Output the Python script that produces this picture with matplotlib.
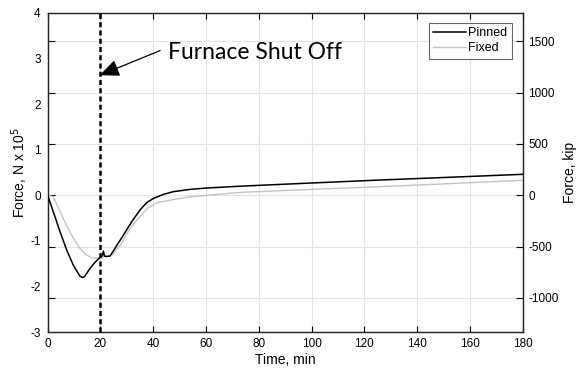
import matplotlib
matplotlib.use("Agg")
import matplotlib.pyplot as plt
import numpy as np

# Data (time in min, force in N x 10^5)
t_pinned = [0, 2.1, 4.7, 7.2, 9.7, 12.2, 13.3, 14.1, 16.0, 17.9, 19.8, 20.6, 21.1, 21.5, 22.4, 23.6,
            25.5, 28.7, 31.8, 35.0, 37.5, 40.0, 43.8, 47.6, 53.9, 60.2, 73.0, 100, 126, 150, 180]
f_pinned = [0, -0.36, -0.80, -1.20, -1.53, -1.77, -1.80, -1.77, -1.60, -1.47, -1.36, -1.33, -1.22, -1.33, -1.34, -1.33,
            -1.16, -0.87, -0.58, -0.32, -0.16, -0.07, 0.02, 0.08, 0.13, 0.16, 0.20, 0.27, 0.335, 0.39, 0.46]

t_fixed = [0, 2.1, 4.7, 7.2, 9.7, 12.2, 14.7, 17.2, 19.8, 22.4, 24.3, 27.5, 31.3, 33.8, 37.7,
           41.5, 47.8, 54.1, 60.4, 73.0, 100, 126, 150, 180]
f_fixed = [0, -0.03, -0.36, -0.67, -0.94, -1.16, -1.31, -1.38, -1.36, -1.33, -1.31, -1.09, -0.72, -0.54, -0.29,
           -0.16, -0.09, -0.03, 0.0, 0.065, 0.13, 0.19, 0.25, 0.33]

series_labels = ["Pinned", "Fixed"]
x_ticks = list(range(0, 181, 20))
left_ticks = list(range(-3, 5))
right_ticks = [-1000, -500, 0, 500, 1000, 1500]
shutoff_time = 20
kip_per_unit = 444.8

plt.rcParams['font.family'] = ['Liberation Sans', 'DejaVu Sans']
plt.rcParams['font.size'] = 8
plt.rcParams['axes.unicode_minus'] = False

fig = plt.figure(figsize=(5.82, 3.72), dpi=100)
ax = fig.add_axes([0.082, 0.1067, 0.816, 0.8592])
ax2 = ax.twinx()

ax.set_zorder(2)
ax2.set_zorder(1)
ax.patch.set_visible(False)
ax2.patch.set_visible(True)
ax2.patch.set_facecolor('white')

gridc = '#e3e3e3'
ax.plot(t_pinned, f_pinned, color='black', lw=1.1, label=series_labels[0], zorder=3)
ax.plot(t_fixed, f_fixed, color='#c4c4c4', lw=1.0, label=series_labels[1], zorder=2)
ax.axvline(shutoff_time, color='black', lw=1.8, linestyle=(0, (2.0, 1.3)), zorder=4)

ax.set_xlim(0, 180)
ax.set_ylim(-3, 4)
ax2.set_ylim(-3 * kip_per_unit, 4 * kip_per_unit)

ax.set_xticks(x_ticks)
ax.set_yticks(left_ticks)
ax2.set_yticks(right_ticks)

ax.xaxis.grid(True, color=gridc, lw=0.8)
ax2.yaxis.grid(True, color=gridc, lw=0.8)
ax.set_axisbelow(True)
ax2.set_axisbelow(True)

ax.tick_params(axis='x', direction='in', top=True, bottom=True, length=4, width=0.8, pad=4, labelsize=8.5)
ax.tick_params(axis='y', length=0, pad=5, labelsize=8.5)
ax2.tick_params(axis='y', direction='in', left=True, right=True, labelleft=False, labelright=True,
                length=5, width=0.8, pad=4, labelsize=8.5)

for a in (ax, ax2):
    for s in a.spines.values():
        s.set_linewidth(0.9)
        s.set_color('#262626')

ax.set_xlabel("Time, min", fontsize=10, labelpad=2)
ax.set_ylabel("Force, N x 10$^5$", fontsize=10, labelpad=0)
ax2.set_ylabel("Force, kip", fontsize=10, labelpad=3)

leg = ax.legend(loc='upper right', bbox_to_anchor=(1 - 11 / 475, 1 - 10 / 319.6), borderaxespad=0,
                fancybox=False, edgecolor='#666666', framealpha=1, fontsize=9, handlelength=2.6,
                handletextpad=0.2, borderpad=0.35, labelspacing=0.25)
leg.get_frame().set_linewidth(0.8)

ax.annotate("", xy=(shutoff_time - 0.3, 2.63), xytext=(42.6, 3.17),
            arrowprops=dict(arrowstyle='-|>,head_length=1.5,head_width=0.65', color='black', lw=0.9,
                            shrinkA=0, shrinkB=0), zorder=5)
ax.text(45.6, 3.12, "Furnace Shut Off", fontsize=16.5, family=['Lato', 'DejaVu Sans'],
        va='center', ha='left', zorder=5)

fig.savefig("out.png", dpi=100)
